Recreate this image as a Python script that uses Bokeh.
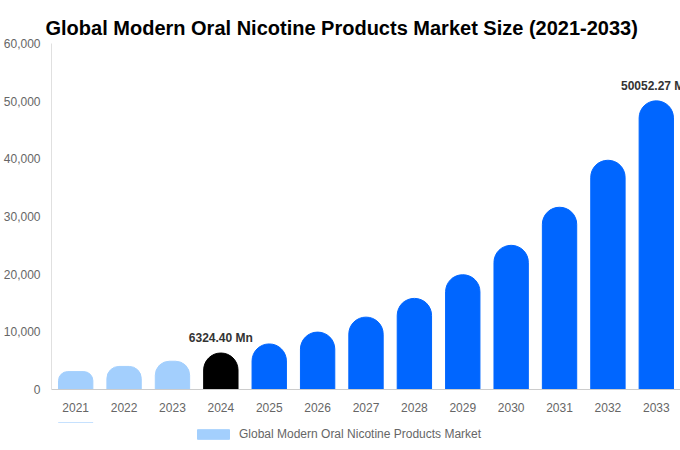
from bokeh.plotting import figure
from bokeh.layouts import column
from bokeh.models import (ColumnDataSource, FactorRange, FixedTicker, NumeralTickFormatter, Legend,
                          LegendItem, CDSView, IndexFilter, Range1d)
from bokeh.core.properties import value
from bokeh.embed import file_html
from bokeh.resources import INLINE

years = ["2021", "2022", "2023", "2024", "2025", "2026", "2027", "2028", "2029", "2030", "2031", "2032", "2033"]
market = [3100, 4000, 4900, 6324.40, 7900, 9950, 12550, 15800, 19900, 25000, 31600, 39750, 50052.27]
colors = ["#a3cffd"] * 3 + ["#000000"] + ["#0066ff"] * 9
ann_years = ["2024", "2033"]
ann_values = [6324.40, 50052.27]
ann_text = ["6324.40 Mn", "50052.27 Mn"]
y_ticks = [0, 10000, 20000, 30000, 40000, 50000, 60000]
title = "Global Modern Oral Nicotine Products Market Size (2021-2033)"
series_name = "Global Modern Oral Nicotine Products Market"

FONT = "Liberation Sans"
W, H, LEG_H = 680, 422, 28
BL, BR, BT, BB = 50, 0, 43, 33
Y_MAX = 60000
FRAME_H = H - BT - BB
MAX_R = 17

src = ColumnDataSource(dict(x=years, top=market, color=colors))
ann = ColumnDataSource(dict(x=ann_years, y=ann_values, t=ann_text))

p = figure(width=W, height=H, output_backend="svg", toolbar_location=None,
           x_range=FactorRange(*years, range_padding=0), y_range=(0, Y_MAX),
           min_border_left=BL, min_border_right=BR, min_border_top=BT, min_border_bottom=BB,
           title=title)
p.outline_line_color = None
p.grid.visible = False

p.title.align = "left"
p.title.offset = -6
p.title.text_font = FONT
p.title.text_font_size = "20px"
p.title.text_font_style = "bold"
p.title.text_color = "#000000"

for i, v in enumerate(market):
    r = int(round(min(MAX_R, v / Y_MAX * FRAME_H / 2)))
    p.vbar(x="x", top="top", width=0.71, color="color", source=src,
           view=CDSView(filter=IndexFilter([i])), border_radius=(r, r, 0, 0))

p.text(x="x", y="y", text="t", source=ann, text_align="center", text_baseline="bottom",
       y_offset=-8, text_font=value(FONT), text_font_size="12px", text_font_style="bold",
       text_color="#333333")

p.yaxis.ticker = FixedTicker(ticks=y_ticks)
p.yaxis.formatter = NumeralTickFormatter(format="0,0")
for ax in (p.xaxis[0], p.yaxis[0]):
    ax.major_tick_line_color = None
    ax.minor_tick_line_color = None
    ax.major_label_text_font = FONT
    ax.major_label_text_font_size = "12px"
    ax.major_label_text_color = "#666666"
p.yaxis.axis_line_color = "#e0e0e0"
p.xaxis.axis_line_color = "#cccccc"
p.yaxis.major_label_standoff = 5
p.xaxis.major_label_standoff = 7

# legend strip below the chart (its key bar lies outside the strip's visible range)
lg = figure(width=W, height=LEG_H, output_backend="svg", toolbar_location=None,
            x_range=FactorRange(*years), y_range=Range1d(-1e6, -5e5),
            x_axis_location=None, y_axis_location=None,
            min_border_left=0, min_border_right=0, min_border_top=0, min_border_bottom=0)
lg.outline_line_color = None
lg.grid.visible = False
key = lg.vbar(x="x", top="top", width=0.71, color="color", source=src,
              view=CDSView(filter=IndexFilter([0])))
legend = Legend(items=[LegendItem(label=series_name, renderers=[key], index=0)],
                location=(142, 9), orientation="horizontal",
                glyph_width=40, glyph_height=12, padding=0, margin=0, spacing=0,
                label_text_font=FONT, label_text_font_size="12px", label_text_color="#666666",
                border_line_color=None, background_fill_alpha=0, label_standoff=6)
lg.add_layout(legend, "center")

layout = column(p, lg, spacing=0)
open("out.html", "w").write(file_html(layout, INLINE))
